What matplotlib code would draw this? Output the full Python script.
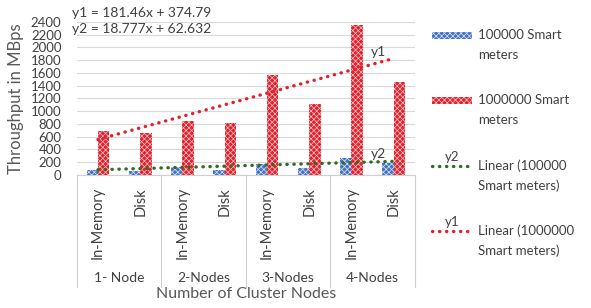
import numpy as np
import matplotlib.pyplot as plt
from matplotlib.patches import Rectangle
from matplotlib.lines import Line2D

plt.rcParams['font.family'] = ['Lato', 'DejaVu Sans']
plt.rcParams['hatch.linewidth'] = 0.5

# data
groups = ['1- Node', '2-Nodes', '3-Nodes', '4-Nodes']
storage = ['In-Memory', 'Disk'] * 4
meters_100k = [78, 62, 118, 80, 172, 112, 265, 188]
meters_1m = [690, 655, 845, 810, 1565, 1120, 2345, 1465]
fit_1m = (181.46, 374.79)   # y1
fit_100k = (18.777, 62.632)  # y2

txt = '#404040'
red = '#e3202c'
blue = '#4472c4'
green = '#2f6b20'
hatch = 'xxxxxx'

fig = plt.figure(figsize=(5.91, 3.08), dpi=100)
ax = fig.add_axes([0.130, 0.432, 0.572, 0.497])

x = np.arange(len(storage))
w = 0.27
ax.bar(x - w / 2, meters_100k, w, color=blue, edgecolor='#dfe6f5', linewidth=0, hatch=hatch)
ax.bar(x + w / 2, meters_1m, w, color=red, edgecolor='#f6c9cc', linewidth=0, hatch=hatch)

# trend lines (Excel uses x = 1..n)
dots = dict(lw=2.4, ls=(0, (0.1, 2.0)), dash_capstyle='round')
xt = np.array([x[0], x[-1]])
ax.plot(xt, fit_1m[0] * (xt + 1) + fit_1m[1], color=red, **dots)
ax.plot(xt, fit_100k[0] * (xt + 1) + fit_100k[1], color=green, **dots)
ax.text(6.65, 1840, 'y1', fontsize=10, color=txt, ha='center', va='bottom')
ax.text(6.65, 230, 'y2', fontsize=10, color=txt, ha='center', va='bottom')

ax.set_xlim(-0.5, 7.5)
ax.set_ylim(0, 2400)
ax.set_yticks(range(0, 2401, 200))
ax.tick_params(axis='y', length=0, labelsize=9.5, labelcolor=txt, pad=11)
ax.set_xticks([])
ax.grid(axis='y', color='#d9d9d9', lw=0.8)
ax.set_axisbelow(True)
for s in ['top', 'right', 'left']:
    ax.spines[s].set_visible(False)
ax.spines['bottom'].set_color('#d0d0d0')

# multi-level category axis
xtr = ax.get_xaxis_transform()
for i, lab in enumerate(storage):
    ax.text(i, -0.08, lab, transform=xtr, rotation=90,
            ha='center', va='top', fontsize=10.5, color=txt)
for g, lab in enumerate(groups):
    ax.text(2 * g + 0.5, -0.67, lab, transform=xtr,
            ha='center', va='center', fontsize=10, color=txt)
for b in [-0.5, 1.5, 3.5, 5.5, 7.5]:
    ax.plot([b, b], [0, -0.73], transform=xtr, color='#d0d0d0', lw=0.8, clip_on=False)


def fy(p):
    return 1 - p / 308


fig.text(0.5 * (77 + 415) / 591, fy(294), 'Number of Cluster Nodes', fontsize=11.5,
         color='#595959', ha='center', va='center')
ax.set_ylabel('Throughput in MBps', fontsize=12, color='#595959', labelpad=5)

# equations
fig.text(0.122, fy(13), 'y1 = %.2fx + %.2f' % fit_1m, fontsize=10, color=txt, va='center')
fig.text(0.122, fy(29), 'y2 = %.3fx + %.3f' % fit_100k, fontsize=10, color=txt, va='center')

# legend drawn by hand
lx, lw_, tx = 432 / 591, 40 / 591, 478 / 591
fig.add_artist(Rectangle((lx, fy(39)), lw_, 7 / 308, transform=fig.transFigure,
                         facecolor=blue, edgecolor='#dfe6f5', lw=0, hatch=hatch))
fig.add_artist(Rectangle((lx, fy(104)), lw_, 7 / 308, transform=fig.transFigure,
                         facecolor=red, edgecolor='#f6c9cc', lw=0, hatch=hatch))
fig.add_artist(Line2D([lx, lx + lw_], [fy(166), fy(166)], transform=fig.transFigure,
                      color=green, **dots))
fig.add_artist(Line2D([lx, lx + lw_], [fy(231), fy(231)], transform=fig.transFigure,
                      color=red, **dots))
fig.text(lx + lw_ / 2, fy(163), 'y2', fontsize=9.5, color=txt, ha='center', va='bottom')
fig.text(lx + lw_ / 2, fy(228), 'y1', fontsize=9.5, color=txt, ha='center', va='bottom')

leg_labels = [('100000 Smart', 'meters'), ('1000000 Smart', 'meters'),
              ('Linear (100000', 'Smart meters)'), ('Linear (1000000', 'Smart meters)')]
for (l1, l2), py in zip(leg_labels, [35, 100, 166, 231]):
    fig.text(tx, fy(py), l1, fontsize=9.5, color=txt, va='center')
    fig.text(tx, fy(py + 20), l2, fontsize=9.5, color=txt, va='center')

fig.savefig('out.png', dpi=100)
